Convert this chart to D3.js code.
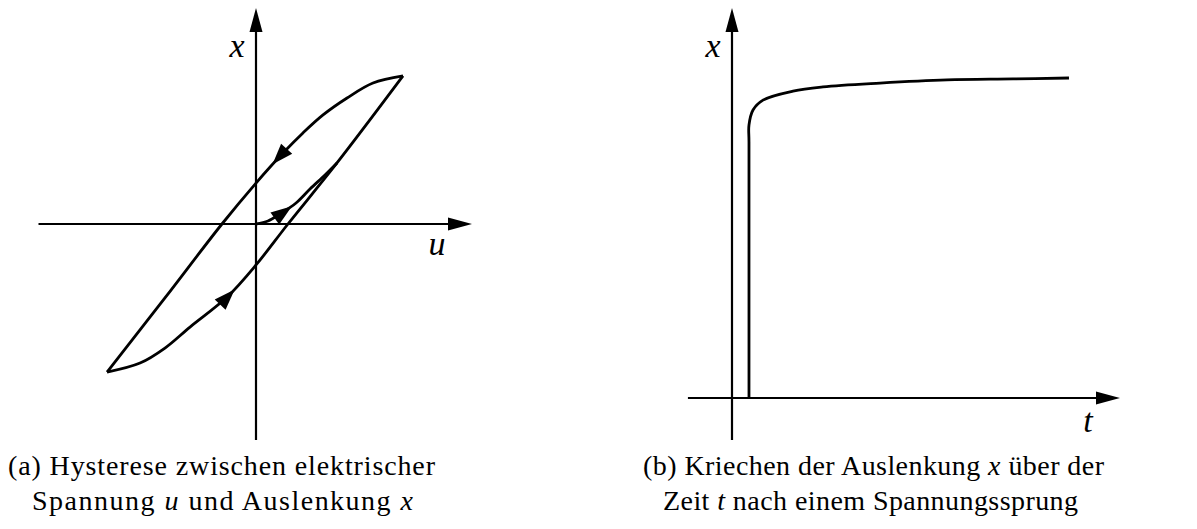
<!DOCTYPE html>
<html>
<head>
<meta charset="utf-8">
<script src="https://cdn.jsdelivr.net/npm/d3@7"></script>
<style>
  html, body { margin: 0; padding: 0; background: #fff; }
  svg { display: block; }
  .cap { font-family: "Liberation Serif", "DejaVu Serif", serif; font-size: 28px; fill: #000; }
  .lab { font-family: "Liberation Serif", "DejaVu Serif", serif; font-style: italic; fill: #000; }
</style>
</head>
<body>
<svg id="chart" width="1197" height="529"></svg>
<script>
// ---- (a) hysteresis: voltage u vs. displacement x (normalised units) ----
const uAxisExtent = [-1.45, 1.44];
const xAxisExtentA = [-1.44, 1.44];

// descending branch, from the upper turning point down to the lower one
const descendingU = [0.98, 0.78, 0.607, 0.447, 0.313, 0.18, 0.0, -0.227, -0.607, -0.993];
const descendingX = [0.987, 0.94, 0.84, 0.727, 0.607, 0.473, 0.273, 0.0, -0.493, -0.987];

// ascending branch, from the lower turning point up to the upper one
const ascendingU = [-0.993, -0.773, -0.607, -0.44, -0.193, 0.0, 0.213, 0.54, 0.98];
const ascendingX = [-0.987, -0.927, -0.827, -0.687, -0.487, -0.273, 0.0, 0.407, 0.987];

// initial (virgin) curve starting at the origin
const virginU = [0.0, 0.08, 0.16, 0.267, 0.36, 0.46, 0.54];
const virginX = [0.0, 0.02, 0.067, 0.14, 0.233, 0.327, 0.407];

// direction arrows: tip positions on each branch
const arrowBranch = ["descending", "ascending", "virgin"];
const arrowTipU = [0.113, -0.153, 0.24];
const arrowTipX = [0.393, -0.427, 0.115];

// ---- (b) creep: displacement x over time t after a voltage step ----
const tAxisExtent = [-1.16, 10.21];
const xAxisExtentB = [-0.131, 1.219];
const creepT = [0.447, 0.447, 0.447, 0.553, 0.816, 1.605, 2.395, 3.895, 5.658, 7.395, 8.868];
const creepX = [0.0, 0.80, 0.853, 0.9, 0.931, 0.959, 0.972, 0.984, 0.994, 0.997, 1.0];

// captions
const captionA = [
  [["(a) Hysterese zwischen elektrischer", false]],
  [["Spannung ", false], ["u", true], [" und Auslenkung ", false], ["x", true]]
];
const captionB = [
  [["(b) Kriechen der Auslenkung ", false], ["x", true], [" über der", false]],
  [["Zeit ", false], ["t", true], [" nach einem Spannungssprung", false]]
];

const svg = d3.select("#chart");
const AXIS_W = 2.2, CURVE_W = 2.8;

function zip(a, b) { return a.map((v, i) => [v, b[i]]); }

function arrowHead(g, tip, dir, len, half) {
  const [tx, ty] = tip, [dx, dy] = dir;
  const bx = tx - dx * len, by = ty - dy * len;
  const nx = -dy, ny = dx;
  g.append("path")
    .attr("d", `M${tx},${ty}L${bx + nx * half},${by + ny * half}L${bx - nx * half},${by - ny * half}Z`)
    .attr("fill", "#000");
}

function axisArrow(g, from, to) {
  const dx = to[0] - from[0], dy = to[1] - from[1];
  const L = Math.hypot(dx, dy), ux = dx / L, uy = dy / L;
  g.append("line")
    .attr("x1", from[0]).attr("y1", from[1])
    .attr("x2", to[0] - ux * 12).attr("y2", to[1] - uy * 12)
    .attr("stroke", "#000").attr("stroke-width", AXIS_W);
  arrowHead(g, to, [ux, uy], 24, 6.5);
}

// ---------- panel (a) ----------
const uS = d3.scaleLinear().domain([-1, 1]).range([106, 406]);
const xS = d3.scaleLinear().domain([-1, 1]).range([374, 74]);
const gA = svg.append("g");

axisArrow(gA, [uS(uAxisExtent[0]), xS(0)], [uS(uAxisExtent[1]), xS(0)]);
axisArrow(gA, [uS(0), xS(xAxisExtentA[0])], [uS(0), xS(xAxisExtentA[1])]);

const lineA = d3.line().x(d => uS(d[0])).y(d => xS(d[1])).curve(d3.curveCatmullRom.alpha(0.5));
const branches = {
  descending: zip(descendingU, descendingX),
  ascending: zip(ascendingU, ascendingX),
  virgin: zip(virginU, virginX)
};
const branchPaths = {};
Object.entries(branches).forEach(([k, pts]) => {
  branchPaths[k] = gA.append("path")
    .attr("d", lineA(pts))
    .attr("fill", "none").attr("stroke", "#000")
    .attr("stroke-width", CURVE_W).attr("stroke-linejoin", "round")
    .node();
});

// place each arrowhead on its branch at the sampled point nearest to the given tip
arrowBranch.forEach((b, i) => {
  const p = branchPaths[b];
  const total = p.getTotalLength();
  const tx = uS(arrowTipU[i]), ty = xS(arrowTipX[i]);
  let best = 0, bestD = Infinity;
  for (let s = 0; s <= total; s += 0.5) {
    const q = p.getPointAtLength(s);
    const d = (q.x - tx) ** 2 + (q.y - ty) ** 2;
    if (d < bestD) { bestD = d; best = s; }
  }
  const a = p.getPointAtLength(Math.max(0, best - 4));
  const c = p.getPointAtLength(Math.min(total, best + 4));
  const q = p.getPointAtLength(best);
  const L = Math.hypot(c.x - a.x, c.y - a.y);
  arrowHead(gA, [q.x, q.y], [(c.x - a.x) / L, (c.y - a.y) / L], 21, 7.5);
});

gA.append("text").attr("class", "lab").attr("font-size", 34)
  .attr("x", uS(0) - 19).attr("y", 57).attr("text-anchor", "middle").text("x");
gA.append("text").attr("class", "lab").attr("font-size", 34)
  .attr("x", 437).attr("y", 255).attr("text-anchor", "middle").text("u");

// ---------- panel (b) ----------
const tS = d3.scaleLinear().domain([0, 10]).range([732, 1112]);
const xB = d3.scaleLinear().domain([0, 1]).range([398, 78]);
const gB = svg.append("g");

axisArrow(gB, [tS(tAxisExtent[0]), xB(0)], [tS(tAxisExtent[1]), xB(0)]);
axisArrow(gB, [tS(0), xB(xAxisExtentB[0])], [tS(0), xB(xAxisExtentB[1])]);

const lineB = d3.line().x(d => tS(d[0])).y(d => xB(d[1])).curve(d3.curveCatmullRom.alpha(0.5));
gB.append("path")
  .attr("d", lineB(zip(creepT, creepX)))
  .attr("fill", "none").attr("stroke", "#000")
  .attr("stroke-width", CURVE_W).attr("stroke-linejoin", "round");

gB.append("text").attr("class", "lab").attr("font-size", 34)
  .attr("x", 713).attr("y", 57).attr("text-anchor", "middle").text("x");
gB.append("text").attr("class", "lab").attr("font-size", 34)
  .attr("x", 1088).attr("y", 432).attr("text-anchor", "middle").text("t");

// ---------- captions ----------
function caption(lines, lefts, widths, baselines) {
  lines.forEach((parts, i) => {
    const t = svg.append("text").attr("class", "cap")
      .attr("x", lefts[i]).attr("y", baselines[i])
      .attr("textLength", widths[i]).attr("lengthAdjust", "spacing");
    parts.forEach(([s, it]) => {
      t.append("tspan").attr("font-style", it ? "italic" : "normal").text(s);
    });
  });
}
caption(captionA, [8, 32], [427, 381], [475, 510]);
caption(captionB, [643, 663], [461, 415], [475, 510]);
</script>
</body>
</html>
